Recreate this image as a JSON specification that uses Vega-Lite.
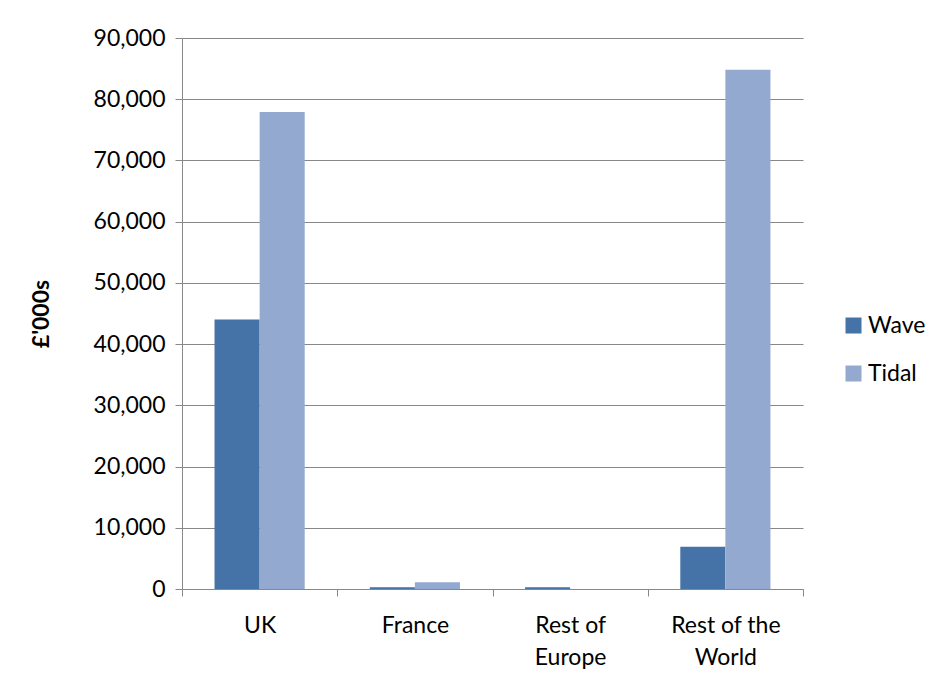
{
  "$schema": "https://vega.github.io/schema/vega-lite/v6.json",
  "width": 621,
  "height": 551,
  "autosize": {"type": "none"},
  "padding": {"left": 182, "top": 38, "right": 141, "bottom": 98},
  "background": "white",
  "config": {
    "view": {"stroke": null},
    "font": "Lato"
  },
  "data": {
    "values": [
      {"region": "UK", "type": "Wave", "value": 44000},
      {"region": "UK", "type": "Tidal", "value": 77900},
      {"region": "France", "type": "Wave", "value": 300},
      {"region": "France", "type": "Tidal", "value": 1100},
      {"region": "Rest of Europe", "type": "Wave", "value": 300},
      {"region": "Rest of Europe", "type": "Tidal", "value": 0},
      {"region": "Rest of the World", "type": "Wave", "value": 6900},
      {"region": "Rest of the World", "type": "Tidal", "value": 84800}
    ]
  },
  "mark": {"type": "bar"},
  "encoding": {
    "x": {
      "field": "region",
      "type": "nominal",
      "sort": ["UK", "France", "Rest of Europe", "Rest of the World"],
      "scale": {"paddingInner": 0, "paddingOuter": 0},
      "axis": {
        "title": null,
        "labelAngle": 0,
        "labelFontSize": 23,
        "labelColor": "#000",
        "labelPadding": 18,
        "tickBand": "extent",
        "tickSize": 7,
        "tickColor": "#888",
        "domainColor": "#888",
        "labelExpr": "datum.label == 'Rest of Europe' ? ['Rest of', 'Europe'] : datum.label == 'Rest of the World' ? ['Rest of the', 'World'] : datum.label",
        "labelLineHeight": 32
      }
    },
    "xOffset": {
      "field": "type",
      "sort": ["Wave", "Tidal"],
      "scale": {"paddingInner": 0, "paddingOuter": 0.722}
    },
    "y": {
      "field": "value",
      "type": "quantitative",
      "scale": {"domain": [0, 90000]},
      "axis": {
        "title": "£'000s",
        "titleFontSize": 23,
        "titleFontWeight": "bold",
        "titleColor": "#000",
        "titlePadding": 40,
        "values": [0, 10000, 20000, 30000, 40000, 50000, 60000, 70000, 80000, 90000],
        "format": ",.0f",
        "labelFontSize": 23,
        "labelColor": "#000",
        "labelPadding": 10,
        "tickSize": 7,
        "tickColor": "#888",
        "domainColor": "#888",
        "gridColor": "#888",
        "gridWidth": 1
      }
    },
    "color": {
      "field": "type",
      "type": "nominal",
      "sort": ["Wave", "Tidal"],
      "scale": {"domain": ["Wave", "Tidal"], "range": ["#4572A7", "#93A9D0"]},
      "legend": {
        "title": null,
        "orient": "none",
        "legendX": 660,
        "legendY": 276,
        "symbolType": "square",
        "symbolSize": 256,
        "symbolStrokeWidth": 0,
        "labelFontSize": 23,
        "labelColor": "#000",
        "rowPadding": 24,
        "labelOffset": 3
      }
    }
  }
}
